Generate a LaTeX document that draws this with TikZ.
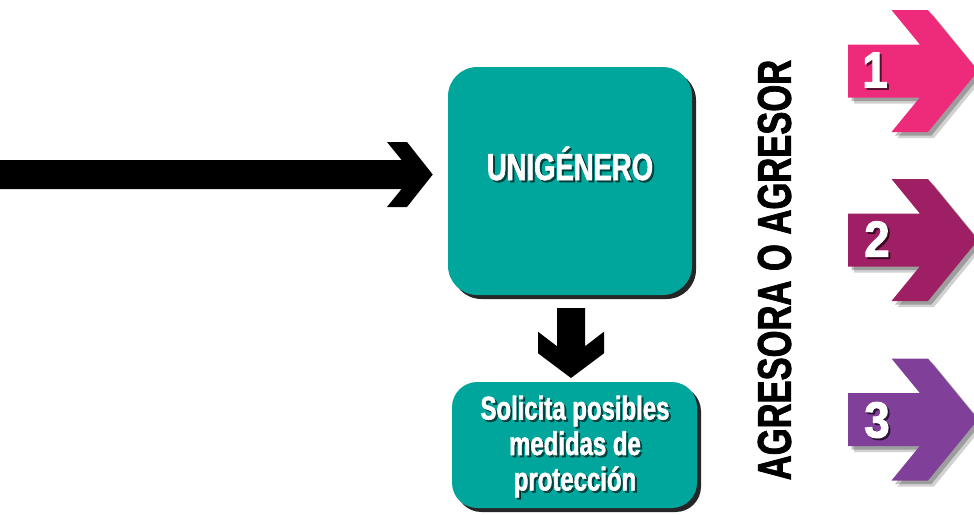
\documentclass[tikz,border=0pt]{standalone}
\usepackage{fontspec}
\setmainfont{Liberation Sans}
\newfontfamily\condf[FakeStretch=0.73,FakeBold=1.6]{Liberation Sans}
\newfontfamily\digf[FakeStretch=0.9,FakeBold=2]{Liberation Sans}
\usetikzlibrary{shadows,calc}
\definecolor{tealbox}{HTML}{00A69C}
\definecolor{pinkA}{HTML}{EE2A7B}
\definecolor{magB}{HTML}{9E1F63}
\definecolor{purC}{HTML}{803F98}
\newcommand\chevpath[1]{(848,{#1-26.5}) -- (919.8,{#1-26.5}) -- (891.5,{#1-61}) -- (928,{#1-61}) -- (978,#1) -- (928,{#1+61}) -- (891.5,{#1+61}) -- (919.8,{#1+26.5}) -- (848,{#1+26.5}) -- cycle}
\newcommand\shadtext[5]{% name, position, anchor, font, text
  \node[text=black, opacity=0.55, align=center, font=#4, anchor=#3, inner sep=0] at ($(#2)+(2,2)$) {#5};
  \node[text=white, align=center, font=#4, anchor=#3, inner sep=0] (#1) at (#2) {#5};}
\newcommand\chevarrow[3]{% name, center y, colour
  \fill[black, opacity=0.18, shift={(6,6)}] \chevpath{#2};
  \fill[black, opacity=0.25, shift={(3.5,3.5)}] \chevpath{#2};
  \fill[#3] \chevpath{#2};
  \coordinate (#1) at (870,#2);}
\begin{document}
\begin{tikzpicture}[x=0.75pt,y=-0.75pt,
  boxstyle/.style={fill=tealbox, inner sep=0,
    drop shadow={shadow xshift=3pt, shadow yshift=-3pt, opacity=0.85, fill=black}}]
\useasboundingbox (0,0) rectangle (974,514);
\clip (0,0) rectangle (974,514);
% boxes
\node[boxstyle, rounded corners=22pt, minimum width=183pt, minimum height=171pt] (box1) at (570,181) {};
\node[boxstyle, rounded corners=19pt, minimum width=183.75pt, minimum height=94.5pt] (box2) at (574.5,445) {};
\shadtext{t1}{570,180}{base}{\condf\bfseries\fontsize{28.2}{30}\selectfont}{UNIGÉNERO}
\shadtext{t2}{575,446.5}{center}{\condf\bfseries\fontsize{24.6}{26.6}\selectfont}{Solicita posibles\\medidas de\\protección}
% left arrow into box1
\coordinate (lstart) at (0,174.5);
\fill[black] (lstart) ++(0,-14.5) -- (401.6,160) -- (387,142) -- (407,142) -- ($(box1.west)+(-15,-6.5)$) -- (407,207) -- (387,207) -- (401.6,189) -- (0,189) -- cycle;
% down arrow box1 -> box2
\fill[black] (557,308) -- (585,308) -- (585,346.3) -- (604,331.7) -- (604,353.3) -- ($(box2.north)+(-3.5,-3.7)$) -- (538,353.3) -- (538,331.7) -- (557,346.3) -- cycle;
% vertical label
\node[rotate=90, inner sep=0, font=\condf\bfseries\fontsize{35.5}{36}\selectfont] (agr) at (774.5,270) {AGRESORA O AGRESOR};
% numbered arrows
\chevarrow{a1}{71}{pinkA}
\chevarrow{a2}{240}{magB}
\chevarrow{a3}{419.5}{purC}
\shadtext{n1}{875,70}{center}{\digf\bfseries\fontsize{38}{40}\selectfont}{1}
\shadtext{n2}{877,239}{center}{\digf\bfseries\fontsize{38}{40}\selectfont}{2}
\shadtext{n3}{877,420}{center}{\digf\bfseries\fontsize{38}{40}\selectfont}{3}
\end{tikzpicture}
\end{document}
